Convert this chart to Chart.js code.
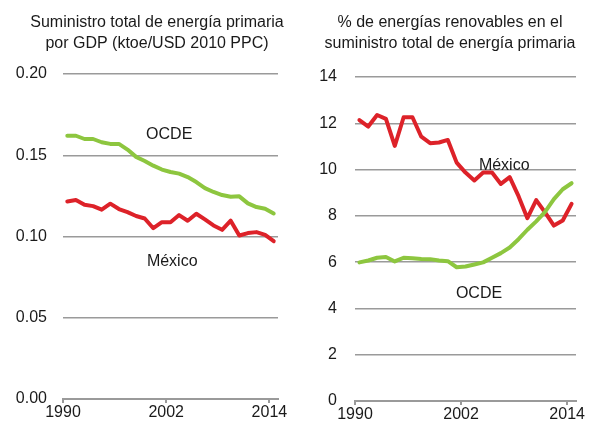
<!DOCTYPE html>
<html lang="es">
<head>
<meta charset="utf-8">
<script src="https://cdn.jsdelivr.net/npm/chart.js@4.4.1/dist/chart.umd.min.js"></script>
<style>
  html, body { margin: 0; padding: 0; background: #fff; }
  canvas { position: absolute; top: 0; }
  #izq { left: 0; }
  #der { left: 305px; }
</style>
</head>
<body>
<canvas id="izq" width="314" height="432"></canvas>
<canvas id="der" width="290" height="432"></canvas>
<script>
// Años (una categoría por año)
const anios = [1990, 1991, 1992, 1993, 1994, 1995, 1996, 1997, 1998, 1999, 2000, 2001, 2002,
  2003, 2004, 2005, 2006, 2007, 2008, 2009, 2010, 2011, 2012, 2013, 2014];
const etiquetasX = ["1990", "2002", "2014"];

// Suministro total de energía primaria por GDP (ktoe/USD 2010 PPC)
const ocdeIntensidad = [0.162, 0.162, 0.160, 0.160, 0.158, 0.157, 0.157, 0.1535, 0.149, 0.1465,
  0.1436, 0.1412, 0.1397, 0.1387, 0.1366, 0.1335, 0.1298, 0.1274, 0.1255, 0.1245, 0.1247,
  0.1204, 0.1181, 0.1171, 0.1142];
const mexicoIntensidad = [0.1216, 0.1224, 0.1195, 0.1187, 0.1165, 0.1202, 0.1169, 0.1150, 0.1126,
  0.1111, 0.1051, 0.1088, 0.1088, 0.1132, 0.1097, 0.1140, 0.1105, 0.1068, 0.1041, 0.1097,
  0.1006, 0.1021, 0.1027, 0.1010, 0.0971];
const ticksIntensidad = [0, 0.05, 0.10, 0.15, 0.20];

// % de energías renovables en el suministro total de energía primaria
const ocdeRenovables = [5.99, 6.07, 6.19, 6.22, 6.03, 6.19, 6.17, 6.14, 6.13, 6.07, 6.04, 5.78,
  5.81, 5.90, 5.99, 6.19, 6.39, 6.63, 6.99, 7.40, 7.76, 8.17, 8.72, 9.15, 9.41];
const mexicoRenovables = [12.14, 11.86, 12.36, 12.19, 11.02, 12.26, 12.26, 11.42, 11.14, 11.17,
  11.28, 10.30, 9.87, 9.53, 9.87, 9.87, 9.38, 9.67, 8.85, 7.90, 8.68, 8.15, 7.58, 7.80, 8.52];
const ticksRenovables = [0, 2, 4, 6, 8, 10, 12, 14];

const ROJO = "#dd2229";
const VERDE = "#8dc63f";
const GRIS = "#9a9a9a";
const TEXTO = "#1a1a1a";
const FUENTE = "16px 'Liberation Sans', Arial, sans-serif";

Chart.defaults.font.family = "'Liberation Sans', Arial, sans-serif";
Chart.defaults.font.size = 16;
Chart.defaults.color = TEXTO;

// Título de cada panel y nombres de las series escritos dentro del gráfico
const textosPlugin = {
  id: "textos",
  afterDraw(chart, args, opts) {
    const ctx = chart.ctx;
    ctx.save();
    ctx.font = FUENTE;
    ctx.fillStyle = TEXTO;
    ctx.textAlign = "center";
    ctx.textBaseline = "middle";
    opts.titulo.forEach((linea, i) => {
      ctx.fillText(linea, opts.centroTitulo, 22.5 + i * 21);
    });
    opts.items.forEach(e => {
      ctx.fillText(e.texto, chart.scales.x.getPixelForValue(e.x), chart.scales.y.getPixelForValue(e.y));
    });
    ctx.restore();
  }
};

function serie(valores) {
  return valores.map((v, i) => ({ x: anios[i], y: v }));
}

function crearGrafico(id, cfg) {
  return new Chart(document.getElementById(id), {
    type: "line",
    data: {
      datasets: [
        { label: "OCDE", data: serie(cfg.ocde), borderColor: VERDE },
        { label: "México", data: serie(cfg.mexico), borderColor: ROJO }
      ]
    },
    options: {
      responsive: false,
      animation: false,
      elements: {
        line: { borderWidth: 4, tension: 0, borderJoinStyle: "round", borderCapStyle: "round" },
        point: { radius: 0 }
      },
      layout: { padding: { left: 0, right: cfg.derecha, top: cfg.arriba, bottom: 0 } },
      plugins: {
        legend: { display: false },
        tooltip: { enabled: false },
        title: { display: false },
        textos: { titulo: cfg.titulo, centroTitulo: cfg.centroTitulo, items: cfg.etiquetas }
      },
      scales: {
        x: {
          type: "linear",
          min: anios[0] - 0.5,
          max: anios[anios.length - 1] + 0.5,
          afterBuildTicks: s => {
            s.ticks = etiquetasX.map(t => ({ value: Number(t) - 0.5 }));
          },
          afterFit: s => { s.height = cfg.alturaX; },
          ticks: {
            padding: 0,
            maxRotation: 0,
            color: TEXTO,
            callback: (v, i) => etiquetasX[i]
          },
          grid: { drawOnChartArea: false, drawTicks: true, tickLength: 4, color: GRIS, lineWidth: 2 },
          border: { display: true, color: GRIS, width: 2 }
        },
        y: {
          min: cfg.ticks[0],
          max: cfg.ticks[cfg.ticks.length - 1],
          afterBuildTicks: s => {
            s.ticks = cfg.ticks.map(v => ({ value: v }));
          },
          afterFit: s => { s.width = cfg.anchoY; },
          ticks: {
            padding: cfg.separacionY,
            color: TEXTO,
            callback: v => v.toFixed(cfg.decimales)
          },
          grid: { drawTicks: false, color: GRIS, lineWidth: 1.5 },
          border: { display: false }
        }
      }
    },
    plugins: [textosPlugin]
  });
}

crearGrafico("izq", {
  titulo: ["Suministro total de energía primaria", "por GDP (ktoe/USD 2010 PPC)"],
  centroTitulo: 157,
  ocde: ocdeIntensidad,
  mexico: mexicoIntensidad,
  ticks: ticksIntensidad,
  decimales: 2,
  anchoY: 63,
  separacionY: 16,
  derecha: 36,
  arriba: 74,
  alturaX: 33,
  etiquetas: [
    { texto: "OCDE", x: 2001.85, y: 0.163 },
    { texto: "México", x: 2002.2, y: 0.0847 }
  ]
});

crearGrafico("der", {
  titulo: ["% de energías renovables en el", "suministro total de energía primaria"],
  centroTitulo: 145,
  ocde: ocdeRenovables,
  mexico: mexicoRenovables,
  ticks: ticksRenovables,
  decimales: 0,
  anchoY: 50,
  separacionY: 18,
  derecha: 19,
  arriba: 77,
  alturaX: 31,
  etiquetas: [
    { texto: "México", x: 2006.38, y: 10.16 },
    { texto: "OCDE", x: 2003.53, y: 4.64 }
  ]
});
</script>
</body>
</html>
